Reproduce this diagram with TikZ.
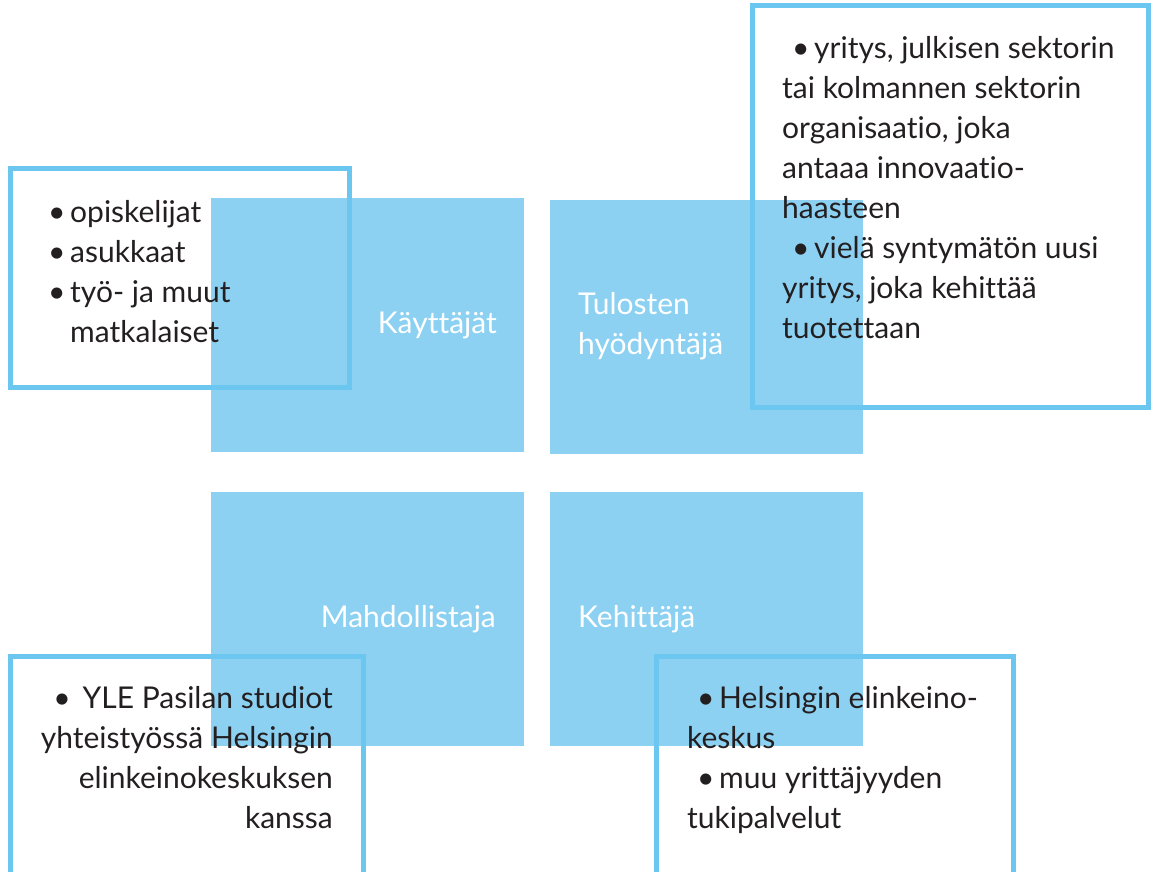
\documentclass[tikz,border=0pt]{standalone}
\usepackage{fontspec}
\setmainfont{Lato}[Ligatures=NoCommon]
\usetikzlibrary{positioning}
\definecolor{tileblue}{HTML}{8DD1F2}
\definecolor{frameblue}{HTML}{6CC7F0}
\definecolor{inkdark}{HTML}{231F20}
\newcommand{\bul}{\makebox[22pt][l]{\textbullet}}

\begin{document}
\begin{tikzpicture}[
        x=1pt, y=-1pt,
        tile/.style={fill=tileblue, draw=none, minimum width=313pt, minimum height=254pt, inner sep=0pt, anchor=north west},
        frame/.style={draw=frameblue, line width=5pt},
        tilelabel/.style={text=white, font=\fontsize{30}{40}\selectfont, inner sep=0pt},
        info/.style={text=inkdark, font=\fontsize{30}{40}\selectfont, inner sep=0pt}
    ]
        \useasboundingbox (0,0) rectangle (1152,872);
        \clip (0,0) rectangle (1152,872);
        % the four squares
        \node[tile] (kayt) at (211,198) {};
        \node[tile] (tulos) at (550,200) {};
        \node[tile] (mahd) at (211,492) {};
        \node[tile] (kehit) at (550,492) {};
        \node[tilelabel, anchor=base east] (kaytlbl) at (497,333) {Käyttäjät};
        \node[tilelabel, anchor=base west, align=left] (tuloslbl) at (578,354) {Tulosten\\hyödyntäjä};
        \node[tilelabel, anchor=base east] (mahdlbl) at (496,627) {Mahdollistaja};
        \node[tilelabel, anchor=base west] (kehitlbl) at (578,627) {Kehittäjä};
        % outlined boxes (base = last line)
        \draw[frame] (10,169) rectangle (349,387);
        \draw[frame] (752,5.5) rectangle (1148,407);
        \draw[frame] (10,656) rectangle (363,874);
        \draw[frame] (656,656) rectangle (1013,874);
        \node[info, anchor=base west, align=left] (kayttext) at (48,342)
            {\bul opiskelijat\\ \bul asukkaat\\ \bul työ- ja muut\\ \hspace*{22pt}matkalaiset};
        \node[info, anchor=base west, align=left] (tulostext) at (782,338)
            {\hspace*{10pt}\bul yritys, julkisen sektorin\\ tai kolmannen sektorin\\ organisaatio, joka\\ antaaa innovaatio-\\ haasteen\\ \hspace*{10pt}\bul vielä syntymätön uusi\\ yritys, joka kehittää\\ tuotettaan};
        \node[info, anchor=base east, align=right] (mahdtext) at (333,828)
            {\textbullet\hspace{12pt}YLE Pasilan studiot\\ yhteistyössä Helsingin\\ elinkeinokeskuksen\\ kanssa};
        \node[info, anchor=base west, align=left] (kehittext) at (687,828)
            {\hspace*{10pt}\bul Helsingin elinkeino-\\ keskus\\ \hspace*{10pt}\bul muu yrittäjyyden\\ tukipalvelut};
    \end{tikzpicture}
\end{document}
